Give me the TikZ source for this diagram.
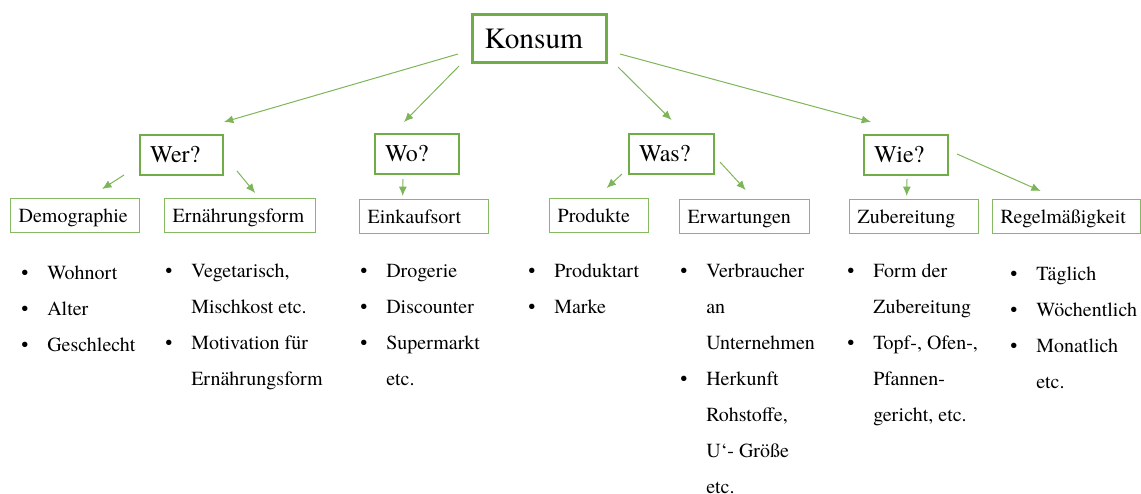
\documentclass[tikz,border=0pt]{standalone}
\usepackage{fontspec}
\setmainfont{texgyretermes}[Extension=.otf, UprightFont=*-regular]
\usepackage{tikz}
\usetikzlibrary{calc,arrows.meta}
\definecolor{konsumgreen}{HTML}{70AD47}
\tikzstyle{topbox}=[draw=konsumgreen, line width=2.25pt, anchor=north west, align=left, inner ysep=0pt, inner xsep=9pt, minimum height=36pt, text height=14.6pt, text depth=0pt, font=\fontsize{22}{26}\selectfont]
\tikzstyle{askbox}=[draw=konsumgreen, line width=1.5pt, anchor=north west, align=left, inner ysep=0pt, inner xsep=7.5pt, minimum height=30pt, text height=11.9pt, text depth=0pt, font=\fontsize{18}{22}\selectfont]
\tikzstyle{subbox}=[draw=konsumgreen!85, line width=1pt, anchor=north west, align=left, inner ysep=0pt, inner xsep=6pt, minimum height=25.5pt, text height=9.9pt, text depth=0pt, font=\fontsize{15}{18}\selectfont]
\tikzstyle{bullets}=[anchor=north west, inner sep=0pt, align=left, font=\fontsize{15}{27}\selectfont]
\tikzstyle{edge}=[draw=konsumgreen!90, line width=0.75pt, -{Latex[length=7pt,width=6pt]}]
\newcommand{\bul}{\strut\makebox[19.5pt][l]{\textbullet}}
\newcommand{\ind}{\strut\hspace*{19.5pt}}

\begin{document}
\begin{tikzpicture}[x=0.75pt, y=-0.75pt]
	\useasboundingbox (0,0) rectangle (1141,493);

	%top
	\node [style=topbox, text width=82.5pt] (konsum) at (471,13) {Konsum};

	%questions
	\node [style=askbox, text width=47.25pt] (wer) at (139,134) {Wer?};
	\node [style=askbox, text width=48pt] (wo) at (374,133) {Wo?};
	\node [style=askbox, text width=48.75pt] (was) at (628,133) {Was?};
	\node [style=askbox, text width=48pt] (wie) at (863,134) {Wie?};

	%aspects
	\node [style=subbox, text width=84.75pt] (demo) at (10,198) {Demographie};
	\node [style=subbox, text width=101.25pt] (erna) at (164,198) {Ernährungsform};
	\node [style=subbox, text width=84.75pt] (eink) at (359,199) {Einkaufsort};
	\node [style=subbox, text width=62.25pt] (prod) at (549,198) {Produkte};
	\node [style=subbox, text width=85.5pt] (erw) at (679,199) {Erwartungen};
	\node [style=subbox, text width=84.75pt] (zub) at (849,199) {Zubereitung};
	\node [style=subbox, text width=99pt] (regel) at (992,199) {Regelmäßigkeit};

	%lists
	\node [style=bullets] (demolist) at (21,253.8) {\bul Wohnort\\ \bul Alter\\ \bul Geschlecht};
	\node [style=bullets] (ernalist) at (165,251.8) {\bul Vegetarisch,\\ \ind Mischkost etc.\\ \bul Motivation für\\ \ind Ernährungsform};
	\node [style=bullets] (einklist) at (360,251.8) {\bul Drogerie\\ \bul Discounter\\ \bul Supermarkt\\ \ind etc.};
	\node [style=bullets] (prodlist) at (528,251.8) {\bul Produktart\\ \bul Marke};
	\node [style=bullets] (erwlist) at (680,251.8) {\bul Verbraucher\\ \ind an\\ \ind Unternehmen\\ \bul Herkunft\\ \ind Rohstoffe,\\ \ind U‘- Größe\\ \ind etc.};
	\node [style=bullets] (zublist) at (847,251.8) {\bul Form der\\ \ind Zubereitung\\ \bul Topf-, Ofen-,\\ \ind Pfannen-\\ \ind gericht, etc.};
	\node [style=bullets] (regellist) at (1010,254.8) {\bul Täglich\\ \bul Wöchentlich\\ \bul Monatlich\\ \ind etc.};

	%arrows
	\draw [style=edge] ($(konsum.south west)+(-13,-10)$) to ($(wer.north east)+(0,-12)$);
	\draw [style=edge] ($(konsum.south west)+(-12,2)$) to ($(wo.north)+(-13,-11)$);
	\draw [style=edge] ($(konsum.south east)+(10,3)$) to ($(was.north)+(0,-13)$);
	\draw [style=edge] ($(konsum.south east)+(12,-10)$) to ($(wie.north west)+(8,-12)$);

	\draw [style=edge] ($(wer.south west)+(-15,-1)$) to ($(demo.north)+(27,-9)$);
	\draw [style=edge] ($(wer.south east)+(13,-5)$) to ($(erna.north)+(15,-5)$);
	\draw [style=edge] ($(wo.south)+(-14,4)$) to ($(eink.north)+(-21.5,-3)$);
	\draw [style=edge] ($(was.south west)+(-6,-1)$) to ($(prod.north)+(7.5,-10)$);
	\draw [style=edge] ($(was.east)+(5,8)$) to ($(erw.north)+(1,-9)$);
	\draw [style=edge] ($(wie.south)+(1,3)$) to ($(zub.north)+(-7.5,-3)$);
	\draw [style=edge] ($(wie.east)+(8,-1)$) to ($(regel.north)+(-26,-8)$);
\end{tikzpicture}
\end{document}
